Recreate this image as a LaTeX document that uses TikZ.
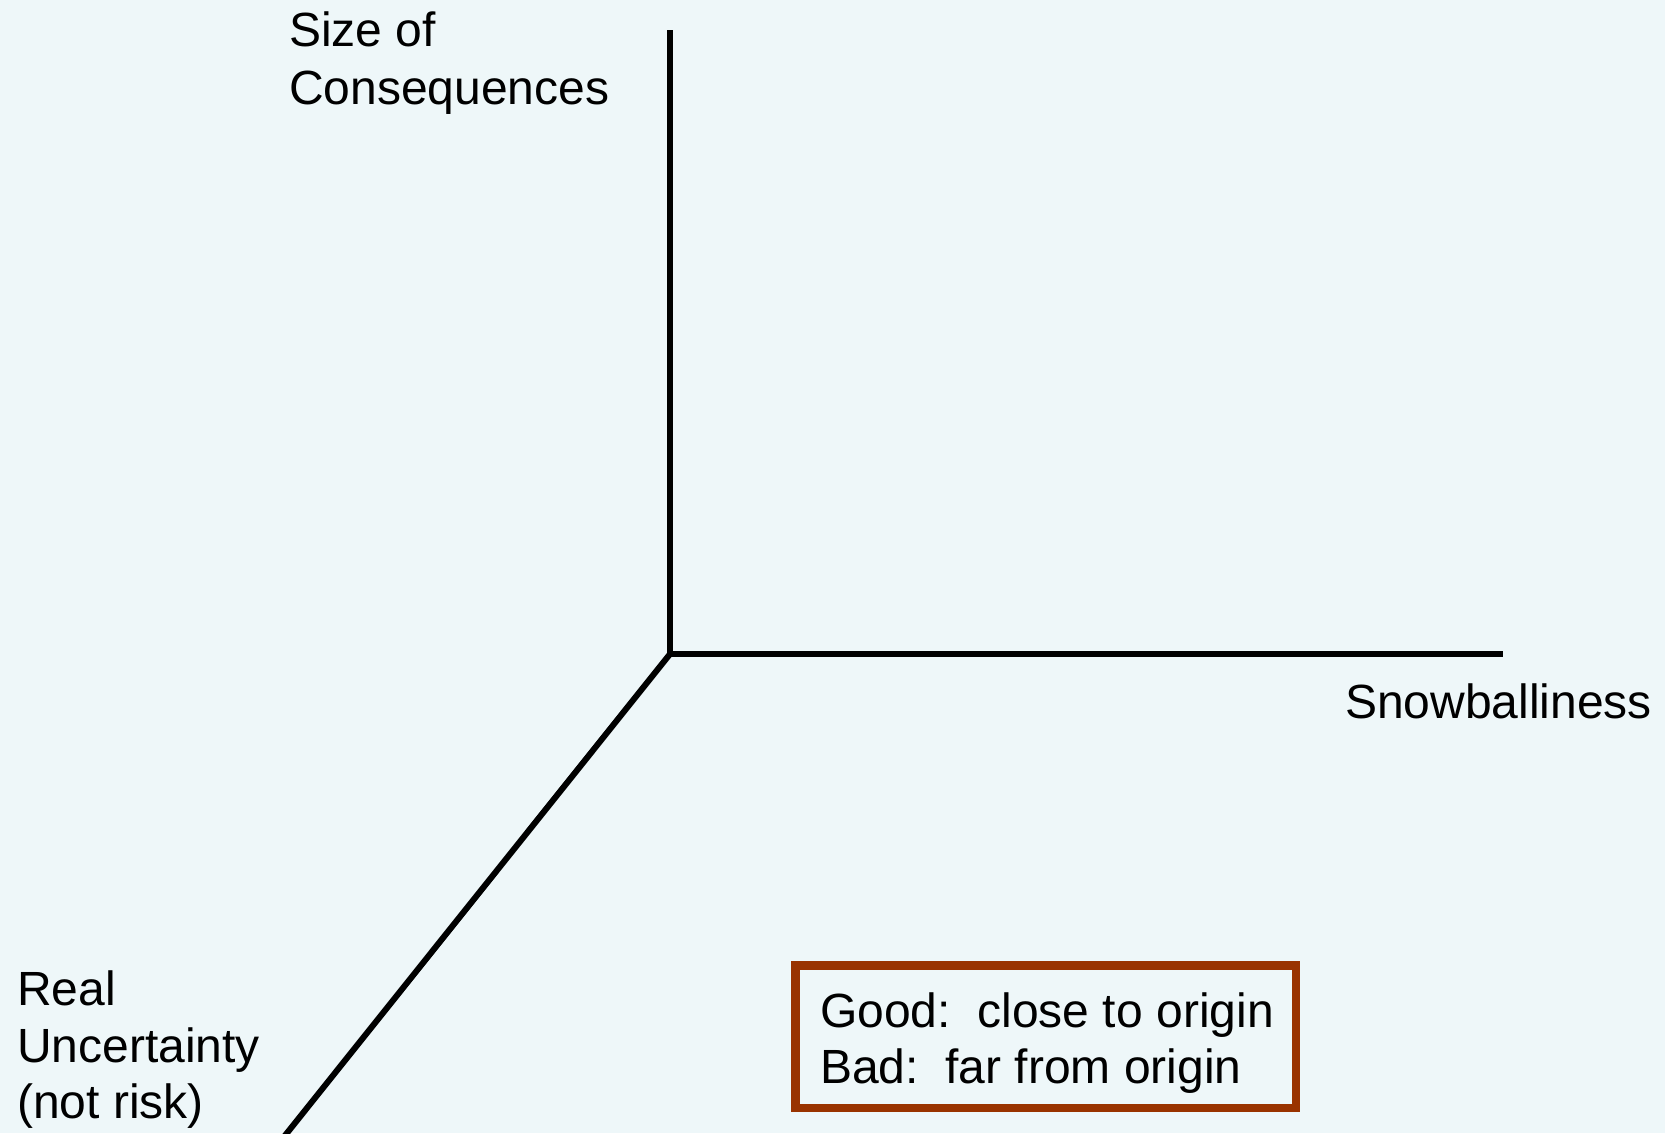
\documentclass[tikz,border=0pt]{standalone}
\usepackage{fontspec}
\setmainfont{Liberation Sans}
\usetikzlibrary{calc}
\definecolor{bgc}{HTML}{EEF7F9}
\definecolor{boxc}{HTML}{993300}
\begin{document}
\begin{tikzpicture}[x=1pt,y=-1pt,
  axis/.style={line width=6pt,black},
  lbl/.style={anchor=base west,inner sep=0pt,font=\fontsize{48}{58}\selectfont},
  gbox/.style={draw=boxc,line width=8.5pt}]
\fill[bgc] (0,0) rectangle (1665,1133);
\useasboundingbox (0,0) rectangle (1665,1133);
\coordinate (O) at (670,654);
\coordinate (top) at (670,30);
\coordinate (right) at (1503,654);
\coordinate (diag) at (287,1133);
\begin{scope}
\clip (0,0) rectangle (1665,1133);
\draw[axis] (top) -- (O) -- (right);
\draw[axis] (O) -- ($(O)!1.05!(diag)$);
\end{scope}
\node[lbl] (s1) at (289,46) {Size of};
\node[lbl] (s2) at (289,104) {Consequences};
\node[lbl] (sn) at (1345,718) {Snowballiness};
\node[lbl] (r1) at (17,1005) {Real};
\node[lbl] (r2) at (17,1062) {Uncertainty};
\node[lbl] (r3) at (17,1118) {(not risk)};
\draw[gbox] (795.5,965.5) rectangle (1296,1108);
\node[lbl] (g1) at (820,1027) {Good:\ \ close to origin};
\node[lbl] (g2) at (820,1083) {Bad:\ \ far from origin};
\end{tikzpicture}
\end{document}
